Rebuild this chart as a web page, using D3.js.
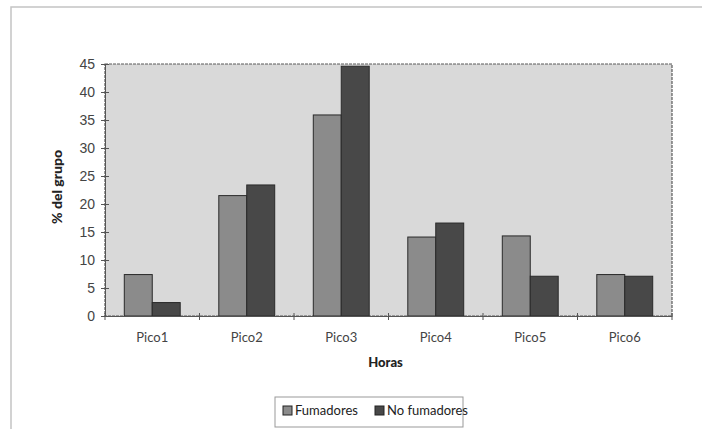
<!DOCTYPE html>
<html>
<head>
<meta charset="utf-8">
<script src="https://cdn.jsdelivr.net/npm/d3@7/dist/d3.min.js"></script>
<style>
  html, body { margin: 0; padding: 0; background: #fff; }
  svg { display: block; }
</style>
</head>
<body>
<div id="chart"></div>
<script>
// Porcentaje del grupo en cada pico horario
const categories = ["Pico1", "Pico2", "Pico3", "Pico4", "Pico5", "Pico6"];
const seriesNames = ["Fumadores", "No fumadores"];
const fumadores = [7.4, 21.5, 35.9, 14.1, 14.3, 7.4];
const noFumadores = [2.4, 23.4, 44.6, 16.6, 7.1, 7.1];
const yTicks = [0, 5, 10, 15, 20, 25, 30, 35, 40, 45];

const W = 702, H = 429;
const plot = { left: 105, top: 64, right: 672, bottom: 316 };
const colors = { "Fumadores": "#8b8b8b", "No fumadores": "#484848" };

const svg = d3.select("#chart").append("svg")
  .attr("width", W).attr("height", H);

// outer frame (top and left edges)
svg.append("path")
  .attr("d", `M11,${H} L11,7 L${W},7`)
  .attr("fill", "none").attr("stroke", "#c4c4c4").attr("stroke-width", 1.5);

const x0 = d3.scaleBand().domain(categories).range([plot.left, plot.right]).paddingInner(0).paddingOuter(0);
const x1 = d3.scaleBand().domain(seriesNames).range([0, x0.bandwidth()]).paddingInner(0).paddingOuter(0.69);
const y = d3.scaleLinear().domain([0, 45]).range([plot.bottom, plot.top]);

// plot area
svg.append("rect")
  .attr("x", plot.left).attr("y", plot.top)
  .attr("width", plot.right - plot.left).attr("height", plot.bottom - plot.top)
  .attr("fill", "#d9d9d9").attr("stroke", "#5a5a5a").attr("stroke-width", 1.2)
  .attr("stroke-dasharray", "3,1");

const rows = categories.map((c, i) => ({ cat: c, values: [
  { name: seriesNames[0], v: fumadores[i] },
  { name: seriesNames[1], v: noFumadores[i] }
]}));

const groups = svg.append("g").selectAll("g").data(rows).join("g")
  .attr("transform", d => `translate(${x0(d.cat)},0)`);

groups.selectAll("rect").data(d => d.values).join("rect")
  .attr("x", d => x1(d.name))
  .attr("y", d => y(d.v))
  .attr("width", x1.bandwidth())
  .attr("height", d => y(0) - y(d.v))
  .attr("fill", d => colors[d.name])
  .attr("stroke", "#2a2a2a").attr("stroke-width", 1);

// y axis
const yAxis = d3.axisLeft(y).tickValues(yTicks).tickSize(0).tickPadding(10);
const gy = svg.append("g").attr("transform", `translate(${plot.left},0)`).call(yAxis);
gy.select(".domain").attr("stroke", "#555");
gy.selectAll(".tick text").attr("font-family", "Liberation Sans, Arial, sans-serif")
  .attr("font-size", 14).attr("fill", "#444");
gy.selectAll(".tick").append("line")
  .attr("x1", -4).attr("x2", 4).attr("stroke", "#555");

// x axis
const xAxis = d3.axisBottom(x0).tickSize(0).tickPadding(17);
const gx = svg.append("g").attr("transform", `translate(0,${plot.bottom})`).call(xAxis);
gx.select(".domain").attr("stroke", "#555");
gx.selectAll(".tick text").attr("font-family", "Lato, 'Open Sans', sans-serif")
  .attr("font-size", 13).attr("fill", "#444");
// category separators
const bounds = categories.map(c => x0(c)).concat([plot.right]);
gx.selectAll("line.sep").data(bounds).join("line").attr("class", "sep")
  .attr("x1", d => d).attr("x2", d => d)
  .attr("y1", -3).attr("y2", 4).attr("stroke", "#555");

// axis titles
svg.append("text")
  .attr("transform", `translate(62,${(plot.top + plot.bottom) / 2 - 3}) rotate(-90)`)
  .attr("text-anchor", "middle")
  .attr("font-family", "Lato, 'Open Sans', sans-serif").attr("font-weight", "900")
  .attr("font-size", 14).attr("fill", "#222")
  .text("% del grupo");

svg.append("text")
  .attr("x", (plot.left + plot.right) / 2 - 3).attr("y", 367)
  .attr("text-anchor", "middle")
  .attr("font-family", "Lato, 'Open Sans', sans-serif").attr("font-weight", "900")
  .attr("font-size", 13).attr("fill", "#222")
  .text("Horas");

// legend
const lg = svg.append("g");
lg.append("rect").attr("x", 275).attr("y", 397).attr("width", 188).attr("height", 30)
  .attr("fill", "#fff").attr("stroke", "#999");
const items = [{ name: seriesNames[0], x: 283 }, { name: seriesNames[1], x: 375 }];
items.forEach(it => {
  lg.append("rect").attr("x", it.x).attr("y", 406).attr("width", 9).attr("height", 9)
    .attr("fill", colors[it.name]).attr("stroke", "#222");
  lg.append("text").attr("x", it.x + 12).attr("y", 415)
    .attr("font-family", "Lato, 'Open Sans', sans-serif").attr("font-size", 13)
    .attr("fill", "#222").text(it.name);
});
</script>
</body>
</html>
